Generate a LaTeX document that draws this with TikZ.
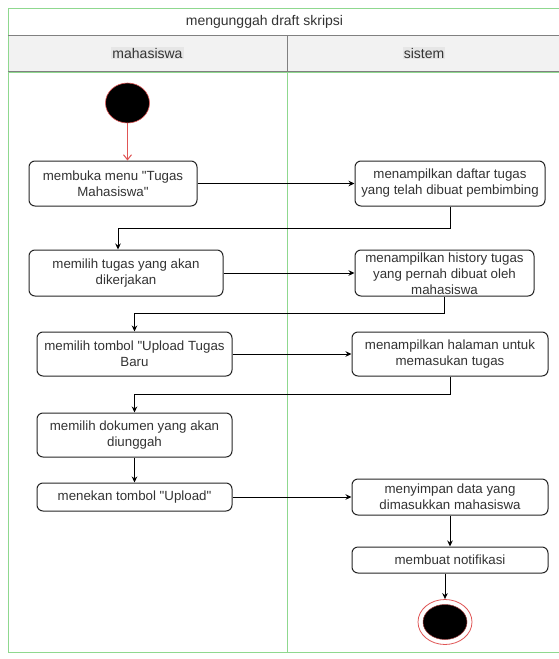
\documentclass[tikz,border=0pt]{standalone}
\usepackage{fontspec}
\setmainfont{Liberation Sans}[Ligatures=TeXOff]
\usetikzlibrary{arrows.meta,calc,shapes.geometric}
\definecolor{lanegreen}{HTML}{8FD88F}
\definecolor{hdrfill}{HTML}{F2F2F2}
\definecolor{hdrtext}{HTML}{E6E6E6}
\definecolor{hdrline}{HTML}{808080}
\definecolor{txt}{HTML}{333333}
\definecolor{startred}{HTML}{E05555}
\begin{document}
\begin{tikzpicture}[x=1pt,y=-1pt,
  act/.style={draw=black!85, line width=1pt, rounded corners=6pt, align=center,
    font=\fontsize{13.3}{16}\selectfont, text=txt, inner sep=0pt, fill=white},
  flow/.style={draw=black, line width=1pt, -{Stealth[length=6pt,width=5.5pt]}},
  initflow/.style={draw=startred, line width=1pt, -{Straight Barb[length=5pt,width=8pt]}},
  lanetitle/.style={font=\fontsize{14}{16}\selectfont, text=txt},
  lanehdr/.style={font=\fontsize{14}{16}\selectfont, text=txt, fill=hdrtext, inner sep=1pt},
]
\useasboundingbox (0,0) rectangle (559,659);
\fill[white] (0,0) rectangle (559,659);
% pool / lanes
\fill[hdrfill] (8,35) rectangle (565,71);
\draw[lanegreen, line width=1pt] (8,652) -- (8,8) -- (565,8);
\draw[lanegreen, line width=0.6pt] (8,652) -- (565,652);
\draw[hdrline, line width=1pt] (8,35) -- (565,35);
\draw[hdrline, line width=1pt] (8,71) -- (565,71);
\draw[hdrline, line width=1pt] (287,35) -- (287,71);
\draw[lanegreen, line width=1pt] (287,72) -- (287,652);
\draw[lanegreen, line width=1pt] (8,72) -- (565,72);

\node[lanetitle] (title) at (264.5,21.5) {mengunggah draft skripsi};
\node[lanehdr] (lanea) at (147.5,53) {mahasiswa};
\node[lanehdr] (laneb) at (424,53) {sistem};

% start / end
\node[ellipse, draw=startred, fill=black, line width=0.6pt, minimum width=44pt, minimum height=40pt, inner sep=0pt] (start) at (127.5,103) {};
\node[ellipse, draw=startred, line width=0.8pt, fill=white, minimum width=54pt, minimum height=45pt, inner sep=0pt] (endc) at (445,622) {};
\node[ellipse, draw=startred!70!black, fill=black, line width=0.5pt, minimum width=44pt, minimum height=35pt, inner sep=0pt] (endin) at (endc) {};

% activities
\node[act, minimum width=168pt, minimum height=45pt] (l1) at (113,183.5) {membuka menu "Tugas\\Mahasiswa"};
\node[act, minimum width=190pt, minimum height=45pt] (r1) at (450,183.5) {menampilkan daftar tugas\\yang telah dibuat pembimbing};
\node[act, minimum width=194pt, minimum height=46pt] (l2) at (126,273) {memilih tugas yang akan\\dikerjakan};
\node[act, minimum width=179pt, minimum height=46pt] (r2) at (444.5,273) {};
\node[font=\fontsize{13.3}{16}\selectfont, text=txt, align=center, inner sep=0pt] (r2t) at (444.5,274) {menampilkan history tugas\\yang pernah dibuat oleh\\mahasiswa};
\node[act, minimum width=195pt, minimum height=44pt] (l3) at (134.5,354) {memilih tombol "Upload Tugas\\Baru};
\node[act, minimum width=196pt, minimum height=44pt] (r3) at (450,354) {menampilkan halaman untuk\\memasukan tugas};
\node[act, minimum width=195pt, minimum height=44pt] (l4) at (134.5,435) {memilih dokumen yang akan\\diunggah};
\node[act, minimum width=195pt, minimum height=28pt] (l5) at (134.5,497) {menekan tombol "Upload"};
\node[act, minimum width=196pt, minimum height=36pt] (r4) at (450,497) {menyimpan data yang\\dimasukkan mahasiswa};
\node[act, minimum width=196pt, minimum height=26pt] (r5) at (450,560) {membuat notifikasi};

% connectors
\draw[initflow] (start.south) -- (start.south |- l1.north);
\draw[flow] (l1.east) -- (r1.west);
\draw[flow] (r1.south) -- ++(0,22) -| ([xshift=-8pt]l2.north);
\draw[flow] (l2.east) -- (r2.west);
\draw[flow] (r2.south) -- ++(0,17) -| (l3.north);
\draw[flow] (l3.east) -- (r3.west);
\draw[flow] (r3.south) -- ++(0,18) -| (l4.north);
\draw[flow] (l4.south) -- (l5.north);
\draw[flow] (l5.east) -- (r4.west);
\draw[flow] (r4.south) -- (r5.north);
\draw[flow] (r5.south -| endc.north) -- (endc.north);
\end{tikzpicture}
\end{document}
